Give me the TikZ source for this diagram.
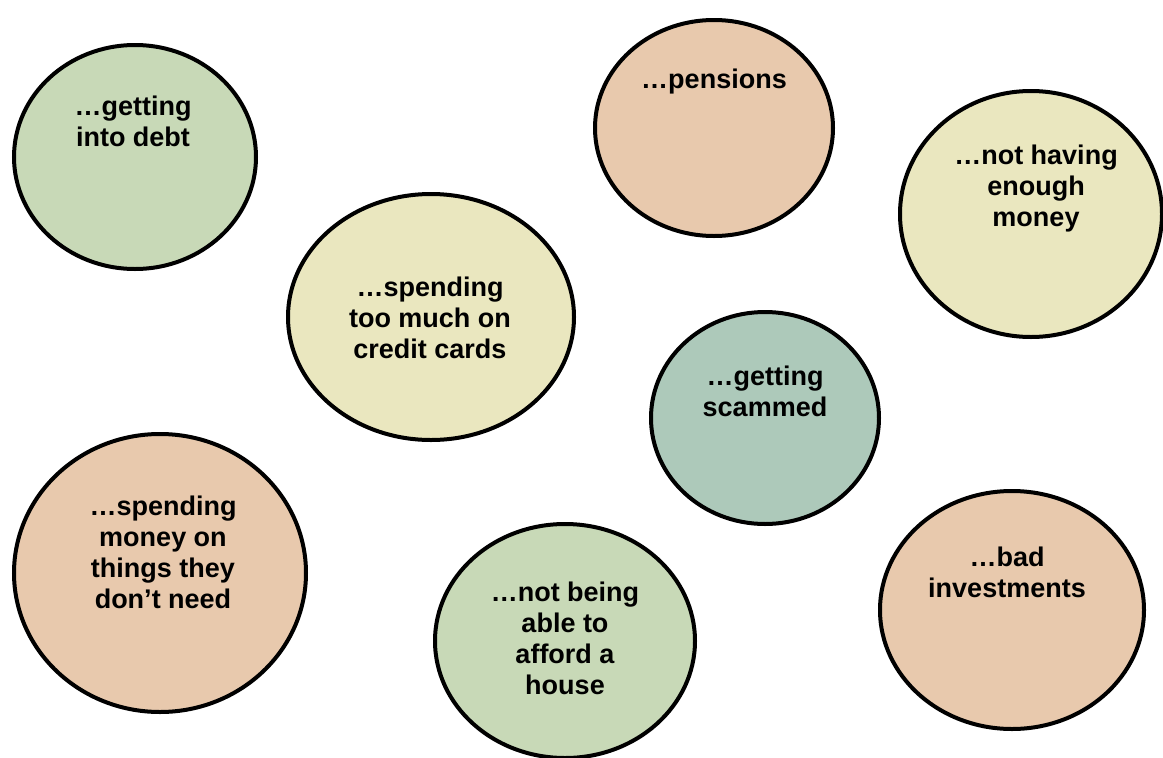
\documentclass[tikz,border=0pt]{standalone}
\usepackage{fontspec}
\setmainfont{Liberation Sans}
\usepackage{tikz}
\usetikzlibrary{shapes.geometric}

\definecolor{leaf}{HTML}{C8D9B7}
\definecolor{peach}{HTML}{E8C9AD}
\definecolor{straw}{HTML}{EAE7BF}
\definecolor{sage}{HTML}{ADC9BA}

\tikzset{
  bubble/.style={ellipse, draw=black, line width=4pt, fill=#1, inner sep=0pt},
  worry/.style={align=center, font=\fontsize{27}{31}\selectfont\bfseries, inner sep=0pt}
}

\begin{document}
\begin{tikzpicture}[x=1pt, y=-1pt]
\useasboundingbox (0,0) rectangle (1163,758);

% the bubbles
\foreach \name/\x/\y/\w/\h/\shade in {debt/135/157/242/224/leaf, pensions/714/128/238/216/peach,
    money/1031/214/262/246/straw, cards/431/317/286/246/straw, scammed/765/418/228/212/sage,
    things/160/573/292/278/peach, house/565/641/260/234/leaf, invest/1012/610/264/238/peach} {
    \node[bubble=\shade, minimum width=\w pt, minimum height=\h pt] (\name) at (\x,\y) {};
}

% what each one is about
\node[worry] (debt-t) at (133,121) {…getting\\into debt};
\node[worry] (pensions-t) at (714,82) {…pensions};
\node[worry] (money-t) at (1036,189) {…not having\\enough\\money};
\node[worry] (cards-t) at (430,318) {…spending\\too much on\\credit cards};
\node[worry] (scammed-t) at (765,391) {…getting\\scammed};
\node[worry] (things-t) at (163,552) {…spending\\money on\\things they\\don’t need};
\node[worry] (house-t) at (565,638) {…not being\\able to\\afford a\\house};
\node[worry] (invest-t) at (1007,572) {…bad\\investments};

\end{tikzpicture}
\end{document}
